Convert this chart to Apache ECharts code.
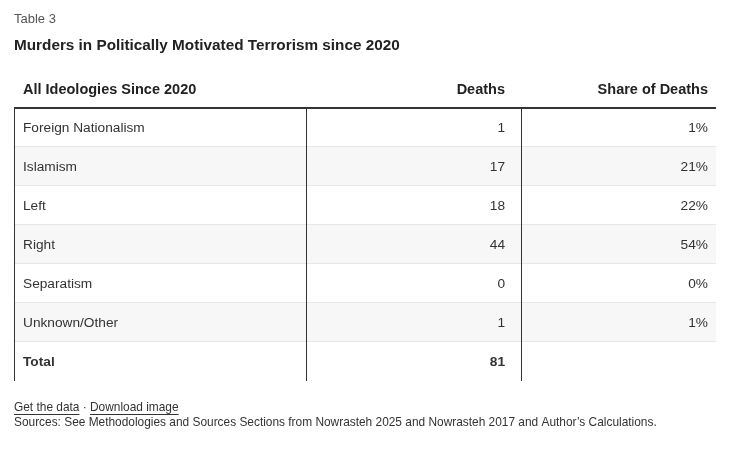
<!DOCTYPE html>
<html>
<head>
<meta charset="utf-8">
<script src="https://cdn.jsdelivr.net/npm/echarts@6/dist/echarts.min.js"></script>
<style>
html,body{margin:0;padding:0;background:#fff;}
#main{width:731px;height:453px;}
</style>
</head>
<body>
<div id="main"></div>
<script>
var categories = ['Foreign Nationalism', 'Islamism', 'Left', 'Right', 'Separatism', 'Unknown/Other'];
var deaths = [1, 17, 18, 44, 0, 1];
var shares = [1, 21, 22, 54, 0, 1];
var totalLabel = 'Total';
var totalDeaths = 81;
var headers = ['All Ideologies Since 2020', 'Deaths', 'Share of Deaths'];

var FONT = '"Liberation Sans", Arial, sans-serif';
var rows = categories.concat([totalLabel]);
var rowData = rows.map(function (r, i) {
  return { value: [0, r], idx: i };
});

// column edges in px relative to table left (table spans 702px)
var COL1 = 292, COL2 = 507, TW = 702;
var ROWFS = 13.7;

var chart = echarts.init(document.getElementById('main'), null, { renderer: 'canvas' });

function renderItem(params, api) {
  var i = params.dataIndex;
  var p = api.coord([0, rows[i]]);
  var h = api.size([0, 1])[1];
  var x0 = p[0];
  var yTop = p[1] - h / 2;
  var yc = p[1] + 1;
  var isTotal = i === rows.length - 1;
  var children = [];
  if (!isTotal && i % 2 === 1) {
    children.push({ type: 'rect', shape: { x: x0, y: yTop, width: TW, height: h }, style: { fill: '#f7f7f7' } });
  }
  if (!isTotal) {
    children.push({ type: 'line', shape: { x1: x0, y1: yTop + h - 0.5, x2: x0 + TW, y2: yTop + h - 0.5 }, style: { stroke: '#e6e6e6', lineWidth: 1 } });
  }
  [0, COL1, COL2].forEach(function (cx) {
    children.push({ type: 'line', shape: { x1: x0 + cx + 0.5, y1: yTop, x2: x0 + cx + 0.5, y2: yTop + h }, style: { stroke: '#333', lineWidth: 1 } });
  });
  if (i === 0) {
    children.push({ type: 'line', shape: { x1: x0, y1: yTop, x2: x0 + TW, y2: yTop }, style: { stroke: '#333', lineWidth: 2 } });
  }
  var fw = isTotal ? 'bold' : 'normal';
  children.push({ type: 'text', style: { text: rows[i], x: x0 + 9, y: yc, align: 'left', verticalAlign: 'middle', fontSize: ROWFS, fontFamily: FONT, fontWeight: fw, fill: '#333' } });
  var d = isTotal ? String(totalDeaths) : String(deaths[i]);
  children.push({ type: 'text', style: { text: d, x: x0 + COL1 + 199, y: yc, align: 'right', verticalAlign: 'middle', fontSize: ROWFS, fontFamily: FONT, fontWeight: fw, fill: '#333' } });
  if (!isTotal) {
    children.push({ type: 'text', style: { text: shares[i] + '%', x: x0 + TW - 8, y: yc, align: 'right', verticalAlign: 'middle', fontSize: ROWFS, fontFamily: FONT, fill: '#333' } });
  }
  return { type: 'group', children: children };
}

function measure(t, font) {
  var c = document.createElement('canvas').getContext('2d');
  c.font = font;
  return c.measureText(t).width;
}
var footFont = '11.9px ' + FONT;
var l1 = 'Get the data';
var sep = ' \u00b7 ';
var l2 = 'Download image';
var w1 = measure(l1, footFont), ws = measure(sep, footFont), w2 = measure(l2, footFont);

var option = {
  animation: false,
  grid: { left: 14, right: 15, top: 108, bottom: 72 },
  xAxis: { type: 'value', min: 0, max: TW, show: false },
  yAxis: { type: 'category', data: rows, inverse: true, show: false },
  series: [{ type: 'custom', renderItem: renderItem, data: rowData, clip: false }],
  graphic: [
    { type: 'text', left: 14, top: 13, style: { text: 'Table 3', fontSize: 13, fontFamily: FONT, fill: '#555' } },
    { type: 'text', left: 14, top: 38, style: { text: 'Murders in Politically Motivated Terrorism since 2020', fontSize: 15.3, fontWeight: 'bold', fontFamily: FONT, fill: '#222' } },
    { type: 'text', left: 23, top: 82, style: { text: headers[0], fontSize: 14.5, fontWeight: 'bold', fontFamily: FONT, fill: '#222' } },
    { type: 'text', right: 226, top: 82, style: { text: headers[1], fontSize: 14.5, fontWeight: 'bold', fontFamily: FONT, fill: '#222' } },
    { type: 'text', right: 23, top: 82, style: { text: headers[2], fontSize: 14.5, fontWeight: 'bold', fontFamily: FONT, fill: '#222' } },
    { type: 'text', left: 14, top: 402, style: { text: l1 + sep + l2, fontSize: 11.9, fontFamily: FONT, fill: '#333' } },
    { type: 'line', shape: { x1: 14, y1: 414.5, x2: 14 + w1, y2: 414.5 }, style: { stroke: '#333', lineWidth: 1 } },
    { type: 'line', shape: { x1: 14 + w1 + ws, y1: 414.5, x2: 14 + w1 + ws + w2, y2: 414.5 }, style: { stroke: '#333', lineWidth: 1 } },
    { type: 'text', left: 14, top: 417, style: { text: 'Sources: See Methodologies and Sources Sections from Nowrasteh 2025 and Nowrasteh 2017 and Author\u2019s Calculations.', fontSize: 11.9, fontFamily: FONT, fill: '#333' } }
  ]
};
chart.setOption(option);
</script>
</body>
</html>
